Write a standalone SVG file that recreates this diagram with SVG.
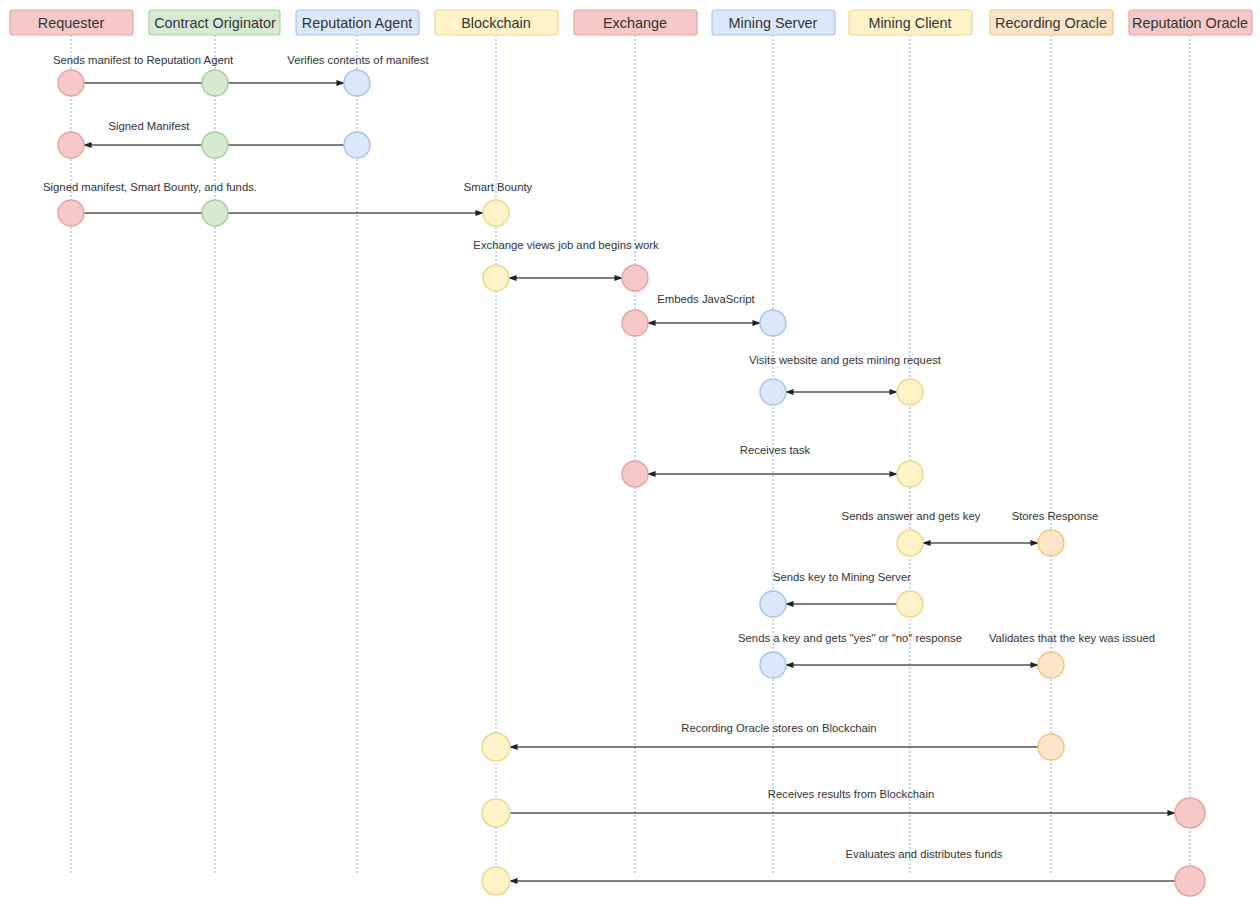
<svg xmlns="http://www.w3.org/2000/svg" width="1260" height="897" viewBox="0 0 1260 897">
<style>
.hd{stroke-width:1.2}
.ht{font-family:"Liberation Sans",Arial,sans-serif;font-size:14.4px;fill:#333;text-anchor:middle}
.lb{font-family:"Liberation Sans",Arial,sans-serif;font-size:11.3px;fill:#333;text-anchor:middle}
.life{stroke:#9dbde6;stroke-width:1.2;stroke-dasharray:2 2;fill:none}
.red{fill:#f6c9c8;stroke:#e3a5a3}
.grn{fill:#d7ebd3;stroke:#a8d09b}
.blu{fill:#dbe8fb;stroke:#a9c3ea}
.yel{fill:#fdf2c8;stroke:#ecd892}
.org{fill:#fde5c9;stroke:#efc680}
.c{stroke-width:1.5}
.ln{stroke:#555;stroke-width:1.4;fill:none}
</style>
<defs>
<marker id="ah" viewBox="0 0 10 10" refX="9" refY="5" markerWidth="6" markerHeight="6" orient="auto-start-reverse">
<path d="M0,1.5 L10,5 L0,8.5 z" fill="#222"/>
</marker>
</defs>
<rect width="1260" height="897" fill="#fff"/>
<g id="lifelines">
<line class="life" x1="71" y1="35" x2="71" y2="873"/>
<line class="life" x1="215" y1="35" x2="215" y2="873"/>
<line class="life" x1="357" y1="35" x2="357" y2="873"/>
<line class="life" x1="496" y1="35" x2="496" y2="873"/>
<line class="life" x1="635" y1="35" x2="635" y2="873"/>
<line class="life" x1="773" y1="35" x2="773" y2="873"/>
<line class="life" x1="910" y1="35" x2="910" y2="873"/>
<line class="life" x1="1051" y1="35" x2="1051" y2="873"/>
<line class="life" x1="1190" y1="35" x2="1190" y2="873"/>
</g>
<g id="requester"><rect class="red hd" x="10" y="10" width="123" height="25" rx="3"/><text class="ht" x="71" y="27.5">Requester</text></g>
<g id="contract-originator"><rect class="grn hd" x="149" y="10" width="131" height="25" rx="3"/><text class="ht" x="215" y="27.5">Contract Originator</text></g>
<g id="reputation-agent"><rect class="blu hd" x="296" y="10" width="123" height="25" rx="3"/><text class="ht" x="357" y="27.5">Reputation Agent</text></g>
<g id="blockchain"><rect class="yel hd" x="435" y="10" width="123" height="25" rx="3"/><text class="ht" x="496" y="27.5">Blockchain</text></g>
<g id="exchange"><rect class="red hd" x="574" y="10" width="123" height="25" rx="3"/><text class="ht" x="635" y="27.5">Exchange</text></g>
<g id="mining-server"><rect class="blu hd" x="712" y="10" width="123" height="25" rx="3"/><text class="ht" x="773" y="27.5">Mining Server</text></g>
<g id="mining-client"><rect class="yel hd" x="849" y="10" width="123" height="25" rx="3"/><text class="ht" x="910" y="27.5">Mining Client</text></g>
<g id="recording-oracle"><rect class="org hd" x="990" y="10" width="123" height="25" rx="3"/><text class="ht" x="1051" y="27.5">Recording Oracle</text></g>
<g id="reputation-oracle"><rect class="red hd" x="1129" y="10" width="123" height="25" rx="3"/><text class="ht" x="1190" y="27.5">Reputation Oracle</text></g>

<g id="connectors">
<line class="ln" x1="84" y1="83" x2="344" y2="83" marker-end="url(#ah)"/>
<line class="ln" x1="344" y1="145" x2="84" y2="145" marker-end="url(#ah)"/>
<line class="ln" x1="84" y1="213" x2="483" y2="213" marker-end="url(#ah)"/>
<line class="ln" x1="509" y1="278" x2="622" y2="278" marker-start="url(#ah)" marker-end="url(#ah)"/>
<line class="ln" x1="648" y1="323" x2="760" y2="323" marker-start="url(#ah)" marker-end="url(#ah)"/>
<line class="ln" x1="786" y1="392" x2="897" y2="392" marker-start="url(#ah)" marker-end="url(#ah)"/>
<line class="ln" x1="648" y1="474" x2="897" y2="474" marker-start="url(#ah)" marker-end="url(#ah)"/>
<line class="ln" x1="923" y1="543" x2="1038" y2="543" marker-start="url(#ah)" marker-end="url(#ah)"/>
<line class="ln" x1="897" y1="604" x2="786" y2="604" marker-end="url(#ah)"/>
<line class="ln" x1="786" y1="665" x2="1038" y2="665" marker-start="url(#ah)" marker-end="url(#ah)"/>
<line class="ln" x1="1038" y1="747" x2="510" y2="747" marker-end="url(#ah)"/>
<line class="ln" x1="510" y1="813" x2="1175" y2="813" marker-end="url(#ah)"/>
<line class="ln" x1="1175" y1="881" x2="510" y2="881" marker-end="url(#ah)"/>
</g>

<g id="activations">
<circle class="red c" cx="71" cy="83" r="13"/><circle class="grn c" cx="215" cy="83" r="13"/><circle class="blu c" cx="357" cy="83" r="13"/>
<circle class="red c" cx="71" cy="145" r="13"/><circle class="grn c" cx="215" cy="145" r="13"/><circle class="blu c" cx="357" cy="145" r="13"/>
<circle class="red c" cx="71" cy="213" r="13"/><circle class="grn c" cx="215" cy="213" r="13"/><circle class="yel c" cx="496" cy="213" r="13"/>
<circle class="yel c" cx="496" cy="278" r="13"/><circle class="red c" cx="635" cy="278" r="13"/>
<circle class="red c" cx="635" cy="323" r="13"/><circle class="blu c" cx="773" cy="323" r="13"/>
<circle class="blu c" cx="773" cy="392" r="13"/><circle class="yel c" cx="910" cy="392" r="13"/>
<circle class="red c" cx="635" cy="474" r="13"/><circle class="yel c" cx="910" cy="474" r="13"/>
<circle class="yel c" cx="910" cy="543" r="13"/><circle class="org c" cx="1051" cy="543" r="13"/>
<circle class="blu c" cx="773" cy="604" r="13"/><circle class="yel c" cx="910" cy="604" r="13"/>
<circle class="blu c" cx="773" cy="665" r="13"/><circle class="org c" cx="1051" cy="665" r="13"/>
<circle class="yel c" cx="496" cy="747" r="14"/><circle class="org c" cx="1051" cy="747" r="13"/>
<circle class="yel c" cx="496" cy="813" r="14"/><circle class="red c" cx="1190" cy="813" r="15"/>
<circle class="yel c" cx="496" cy="881" r="14"/><circle class="red c" cx="1190" cy="881" r="15"/>
</g>

<g id="labels">
<text class="lb" x="143" y="64">Sends manifest to Reputation Agent</text>
<text class="lb" x="358" y="64">Verifies contents of manifest</text>
<text class="lb" x="149" y="130">Signed Manifest</text>
<text class="lb" x="150" y="191">Signed manifest, Smart Bounty, and funds.</text>
<text class="lb" x="498" y="191">Smart Bounty</text>
<text class="lb" x="566" y="249">Exchange views job and begins work</text>
<text class="lb" x="706" y="303">Embeds JavaScript</text>
<text class="lb" x="845" y="364">Visits website and gets mining request</text>
<text class="lb" x="775" y="454">Receives task</text>
<text class="lb" x="911" y="520">Sends answer and gets key</text>
<text class="lb" x="1055" y="520">Stores Response</text>
<text class="lb" x="842" y="581">Sends key to Mining Server</text>
<text class="lb" x="850" y="642">Sends a key and gets "yes" or "no" response</text>
<text class="lb" x="1072" y="642">Validates that the key was issued</text>
<text class="lb" x="779" y="732">Recording Oracle stores on Blockchain</text>
<text class="lb" x="851" y="798">Receives results from Blockchain</text>
<text class="lb" x="924" y="858">Evaluates and distributes funds</text>
</g>
</svg>
